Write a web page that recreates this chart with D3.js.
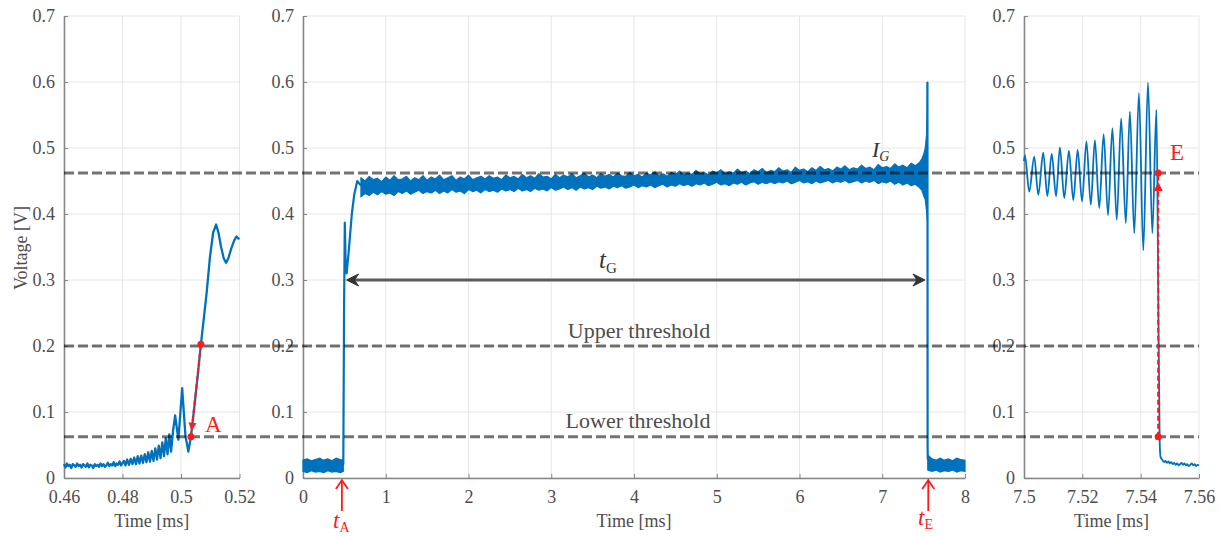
<!DOCTYPE html>
<html><head><meta charset="utf-8">
<script src="https://cdn.jsdelivr.net/npm/d3@7"></script>
<style>
body{margin:0;background:#fff}
svg{display:block}
text{font-family:"Liberation Serif","Times New Roman",serif}
</style>
</head><body><svg id="c" width="1223" height="536"></svg>
<script>
// ---------------- DATA ----------------
const yTicks = [0, 0.1, 0.2, 0.3, 0.4, 0.5, 0.6, 0.7];
const yTickLabels = ["0", "0.1", "0.2", "0.3", "0.4", "0.5", "0.6", "0.7"];
const leftXTicks = [0.46, 0.48, 0.5, 0.52];
const leftXLabels = ["0.46", "0.48", "0.5", "0.52"];
const midXTicks = [0, 1, 2, 3, 4, 5, 6, 7, 8];
const midXLabels = ["0", "1", "2", "3", "4", "5", "6", "7", "8"];
const rightXTicks = [7.5, 7.52, 7.54, 7.56];
const rightXLabels = ["7.5", "7.52", "7.54", "7.56"];

const lowerThreshold = 0.0626;
const upperThreshold = 0.2;
const levelIG = 0.462;

// left panel signal [time ms, voltage V]
const leftSignal = [
 [0.4600,0.021],[0.4605,0.016],[0.4610,0.022],[0.4615,0.018],[0.4620,0.020],[0.4625,0.015],[0.4630,0.021],
 [0.4635,0.019],[0.4640,0.017],[0.4645,0.022],[0.4650,0.018],[0.4655,0.020],[0.4660,0.016],[0.4665,0.021],
 [0.4670,0.019],[0.4675,0.017],[0.4680,0.022],[0.4685,0.016],[0.4690,0.020],[0.4695,0.019],[0.4700,0.015],
 [0.4705,0.021],[0.4710,0.018],[0.4715,0.020],[0.4720,0.017],[0.4725,0.022],[0.4730,0.018],[0.4735,0.021],
 [0.4740,0.017],[0.4745,0.019],[0.4750,0.023],[0.4755,0.018],[0.4760,0.021],[0.4765,0.019],[0.4770,0.024],
 [0.4775,0.018],[0.4780,0.022],[0.4785,0.020],[0.4790,0.025],[0.4795,0.019],[0.4800,0.023],
 [0.4805,0.026],[0.4810,0.019],[0.4816,0.028],[0.4822,0.020],[0.4828,0.029],[0.4834,0.021],[0.4840,0.031],
 [0.4846,0.021],[0.4852,0.033],[0.4858,0.022],[0.4864,0.034],[0.4870,0.023],[0.4876,0.036],[0.4882,0.024],
 [0.4888,0.039],[0.4894,0.025],[0.4900,0.041],[0.4906,0.026],[0.4912,0.045],[0.4918,0.028],[0.4924,0.049],
 [0.4930,0.030],[0.4936,0.054],[0.4942,0.033],[0.4948,0.060],[0.4954,0.036],[0.4960,0.066],[0.4966,0.040],
 [0.4973,0.072],[0.4980,0.095],[0.4991,0.058],[0.5004,0.136],[0.5015,0.065],[0.5025,0.040],[0.5034,0.0626],
 [0.5045,0.105],[0.5056,0.150],[0.5068,0.2026],[0.5078,0.242],[0.5088,0.282],[0.5099,0.335],[0.5110,0.372],
 [0.5120,0.384],[0.5128,0.372],[0.5137,0.350],[0.5146,0.333],[0.5154,0.326],[0.5162,0.333],[0.5172,0.348],
 [0.5182,0.360],[0.5190,0.366],[0.5196,0.363],[0.5200,0.362]
];
const markA = [[0.5068, 0.2026], [0.5034, 0.0626]];

// middle panel: baseline band before rise [t, low, high]
const midStartBand = [
 [0.00,0.010,0.027],[0.05,0.008,0.029],[0.10,0.011,0.026],[0.15,0.009,0.028],[0.20,0.010,0.030],
 [0.25,0.008,0.027],[0.30,0.011,0.029],[0.35,0.009,0.026],[0.40,0.010,0.030],[0.45,0.008,0.028],[0.487,0.010,0.027]
];
// rise transient
const midRise = [
 [0.487,0.020],[0.496,0.25],[0.505,0.387],[0.515,0.33],[0.527,0.31],[0.55,0.34],[0.59,0.40],
 [0.62,0.43],[0.656,0.45],[0.70,0.443]
];
// plateau noise band
const plateauTimes = [
 0.70,0.75,0.80,0.85,0.90,0.95,1.00,1.05,1.10,1.15,
 1.20,1.25,1.30,1.35,1.40,1.45,1.50,1.55,1.60,1.65,
 1.70,1.75,1.80,1.85,1.90,1.95,2.00,2.05,2.10,2.15,
 2.20,2.25,2.30,2.35,2.40,2.45,2.50,2.55,2.60,2.65,
 2.70,2.75,2.80,2.85,2.90,2.95,3.00,3.05,3.10,3.15,
 3.20,3.25,3.30,3.35,3.40,3.45,3.50,3.55,3.60,3.65,
 3.70,3.75,3.80,3.85,3.90,3.95,4.00,4.05,4.10,4.15,
 4.20,4.25,4.30,4.35,4.40,4.45,4.50,4.55,4.60,4.65,
 4.70,4.75,4.80,4.85,4.90,4.95,5.00,5.05,5.10,5.15,
 5.20,5.25,5.30,5.35,5.40,5.45,5.50,5.55,5.60,5.65,
 5.70,5.75,5.80,5.85,5.90,5.95,6.00,6.05,6.10,6.15,
 6.20,6.25,6.30,6.35,6.40,6.45,6.50,6.55,6.60,6.65,
 6.70,6.75,6.80,6.85,6.90,6.95,7.00,7.05,7.10,7.15,
 7.20,7.25,7.30,7.35,7.40,
 7.45,7.48,7.50,7.52,7.535,7.542,7.546
];
const plateauUpper = [
 0.455,0.450,0.457,0.452,0.454,0.449,0.456,0.451,0.458,0.452,
 0.453,0.457,0.450,0.455,0.452,0.458,0.451,0.456,0.453,0.459,
 0.452,0.455,0.458,0.451,0.456,0.453,0.459,0.452,0.455,0.457,
 0.453,0.458,0.454,0.456,0.452,0.459,0.455,0.457,0.453,0.460,
 0.455,0.458,0.454,0.461,0.456,0.457,0.453,0.460,0.455,0.459,
 0.456,0.461,0.455,0.458,0.462,0.456,0.459,0.455,0.461,0.457,
 0.460,0.456,0.462,0.458,0.457,0.463,0.458,0.460,0.456,0.462,
 0.459,0.464,0.458,0.461,0.457,0.463,0.460,0.465,0.459,0.462,
 0.460,0.466,0.461,0.463,0.459,0.465,0.462,0.467,0.461,0.464,
 0.462,0.468,0.463,0.465,0.461,0.467,0.464,0.469,0.463,0.466,
 0.464,0.470,0.465,0.467,0.463,0.471,0.466,0.468,0.464,0.470,
 0.466,0.472,0.467,0.469,0.465,0.471,0.468,0.473,0.467,0.470,
 0.468,0.474,0.469,0.471,0.467,0.475,0.470,0.472,0.469,0.476,
 0.471,0.474,0.470,0.477,0.473,
 0.478,0.484,0.490,0.500,0.520,0.550,0.600
];
const plateauLower = [
 0.426,0.431,0.428,0.433,0.429,0.434,0.430,0.432,0.428,0.434,
 0.431,0.435,0.430,0.433,0.436,0.431,0.434,0.432,0.436,0.431,
 0.435,0.432,0.437,0.433,0.435,0.431,0.437,0.434,0.436,0.432,
 0.437,0.434,0.436,0.433,0.438,0.435,0.437,0.434,0.439,0.435,
 0.437,0.434,0.439,0.436,0.438,0.435,0.440,0.436,0.438,0.441,
 0.437,0.440,0.436,0.441,0.438,0.440,0.437,0.442,0.439,0.441,
 0.438,0.442,0.440,0.443,0.439,0.441,0.444,0.440,0.443,0.441,
 0.444,0.440,0.443,0.445,0.441,0.444,0.442,0.446,0.443,0.445,
 0.442,0.446,0.444,0.447,0.443,0.445,0.448,0.444,0.446,0.443,
 0.447,0.445,0.448,0.444,0.447,0.449,0.445,0.448,0.446,0.449,
 0.446,0.449,0.447,0.450,0.446,0.448,0.451,0.447,0.449,0.446,
 0.450,0.447,0.449,0.451,0.447,0.450,0.448,0.451,0.447,0.449,
 0.451,0.447,0.450,0.448,0.451,0.446,0.449,0.447,0.450,0.445,
 0.448,0.444,0.447,0.443,0.445,
 0.440,0.436,0.428,0.422,0.405,0.395,0.390
];
// fall transient
const midFall = [[7.546,0.600],[7.547,0.420],[7.548,0.050],[7.550,0.030],[7.552,0.028]];
// baseline band after fall
const midEndBand = [
 [7.550,0.012,0.035],[7.60,0.010,0.029],[7.65,0.012,0.027],[7.70,0.009,0.030],[7.75,0.011,0.027],
 [7.80,0.010,0.029],[7.85,0.012,0.026],[7.90,0.009,0.030],[7.95,0.011,0.028],[8.00,0.010,0.027]
];
const tAMark = 0.47;
const tEMark = 7.556;
const tGStart = 0.526;
const tGEnd = 7.517;
const tGLevel = 0.3;

// right panel signal
const rightSignal = [
 [7.5000,0.480],[7.5003,0.489],[7.5018,0.434],[7.5035,0.487],[7.5049,0.429],[7.5066,0.493],[7.5080,0.427],
 [7.5095,0.491],[7.5110,0.427],[7.5123,0.501],[7.5138,0.424],[7.5154,0.496],[7.5169,0.421],[7.5184,0.497],
 [7.5199,0.419],[7.5214,0.510],[7.5229,0.414],[7.5243,0.512],[7.5258,0.409],[7.5273,0.521],[7.5288,0.398],
 [7.5303,0.530],[7.5318,0.391],[7.5333,0.545],[7.5349,0.386],[7.5363,0.555],[7.5378,0.371],[7.5394,0.583],
 [7.5409,0.345],[7.5425,0.599],[7.5440,0.371],[7.5454,0.558],[7.5460,0.300],[7.5465,0.060],[7.5468,0.032],
 [7.5475,0.027],[7.5480,0.024],[7.5485,0.026],[7.5490,0.023],[7.5495,0.025],[7.5500,0.022],[7.5505,0.024],
 [7.5510,0.021],[7.5515,0.023],[7.5520,0.020],[7.5525,0.022],[7.5530,0.019],[7.5535,0.021],[7.5540,0.023],
 [7.5545,0.020],[7.5550,0.022],[7.5555,0.019],[7.5560,0.021],[7.5565,0.018],[7.5570,0.020],[7.5575,0.022],
 [7.5580,0.019],[7.5585,0.021],[7.5590,0.018],[7.5595,0.020],[7.5600,0.019]
];
const markE = [[7.546, 0.0626], [7.546, 0.462]];

// ---------------- DRAWING ----------------
const svg = d3.select("#c");
svg.append("rect").attr("width",1223).attr("height",536).attr("fill","#fff");

const BLUE = "#0072BD";
const RED = "#ff1a1a";
const AX = "#858585";
const TXT = "#4d4d4d";

const y = d3.scaleLinear().domain([0,0.7]).range([478,16]);
const xL = d3.scaleLinear().domain([0.46,0.52]).range([64,239.5]);
const xM = d3.scaleLinear().domain([0,8]).range([303,965]);
const xR = d3.scaleLinear().domain([7.5,7.56]).range([1024,1199]);

const panels = [
  {x:xL, ticks:leftXTicks, labels:leftXLabels},
  {x:xM, ticks:midXTicks, labels:midXLabels},
  {x:xR, ticks:rightXTicks, labels:rightXLabels}
];

const gridG = svg.append("g");
const axG = svg.append("g");
panels.forEach(p => {
  const [x0,x1] = p.x.range();
  gridG.selectAll(null).data(p.ticks).join("line")
    .attr("x1",d=>p.x(d)).attr("x2",d=>p.x(d)).attr("y1",y(0)).attr("y2",y(0.7))
    .attr("stroke","#e6e6e6").attr("stroke-width",1);
  gridG.selectAll(null).data(yTicks).join("line")
    .attr("x1",x0).attr("x2",x1).attr("y1",d=>y(d)).attr("y2",d=>y(d))
    .attr("stroke","#e6e6e6").attr("stroke-width",1);

  const ya = axG.append("g").attr("transform",`translate(${x0},0)`)
    .call(d3.axisLeft(y).tickValues(yTicks).tickFormat((d,i)=>yTickLabels[i])
      .tickSizeInner(-4).tickSizeOuter(0).tickPadding(9));
  const xa = axG.append("g").attr("transform",`translate(0,${y(0)})`)
    .call(d3.axisBottom(p.x).tickValues(p.ticks).tickFormat((d,i)=>p.labels[i])
      .tickSizeInner(-4).tickSizeOuter(0).tickPadding(12));
  [ya,xa].forEach(g=>{
    g.attr("font-family",null).attr("font-size",null);
    g.select(".domain").attr("stroke",AX).attr("stroke-width",1.5);
    g.selectAll(".tick line").attr("stroke",AX).attr("stroke-width",1);
    g.selectAll(".tick text").attr("fill",TXT).style("font-size","18px");
  });
  svg.append("text").attr("x",(x0+x1)/2).attr("y",527).attr("text-anchor","middle")
    .attr("fill",TXT).style("font-size","18px").text("Time [ms]");
});

svg.append("text").attr("transform","translate(27,248) rotate(-90)").attr("text-anchor","middle")
  .attr("fill",TXT).style("font-size","18px").text("Voltage [V]");

const sig = svg.append("g");
// left
sig.append("path").datum(leftSignal)
  .attr("d", d3.line().x(d=>xL(d[0])).y(d=>y(d[1])))
  .attr("fill","none").attr("stroke",BLUE).attr("stroke-width",2.3).attr("stroke-linejoin","round");

// middle
const bandArea = x => d3.area().x(d=>x(d[0])).y0(d=>y(d[1])).y1(d=>y(d[2]));
[midStartBand, midEndBand].forEach(b=>{
  sig.append("path").datum(b).attr("d", bandArea(xM)).attr("fill",BLUE)
    .attr("stroke",BLUE).attr("stroke-width",1.2);
});
const plateau = plateauTimes.map((t,i)=>[t, plateauLower[i], plateauUpper[i]]);
sig.append("path").datum(plateau).attr("d", bandArea(xM)).attr("fill",BLUE)
  .attr("stroke",BLUE).attr("stroke-width",1.2).attr("stroke-linejoin","round");
[midRise, midFall].forEach(l=>{
  sig.append("path").datum(l).attr("d", d3.line().x(d=>xM(d[0])).y(d=>y(d[1])))
    .attr("fill","none").attr("stroke",BLUE).attr("stroke-width",2.2).attr("stroke-linejoin","round");
});

// right
sig.append("path").datum(rightSignal)
  .attr("d", d3.line().x(d=>xR(d[0])).y(d=>y(d[1])).curve(d3.curveMonotoneX))
  .attr("fill","none").attr("stroke",BLUE).attr("stroke-width",1.8);

// dashed horizontal levels
const dashG = svg.append("g");
[levelIG, upperThreshold, lowerThreshold].forEach(v=>{
  dashG.append("line").attr("x1",xL(0.46)).attr("x2",xR(7.56)).attr("y1",y(v)).attr("y2",y(v))
    .attr("stroke","#000").attr("stroke-opacity",0.55).attr("stroke-width",3)
    .attr("stroke-dasharray","10,4");
});

svg.append("text").attr("x",639).attr("y",338).attr("text-anchor","middle").attr("fill",TXT)
  .style("font-size","22px").text("Upper threshold");
svg.append("text").attr("x",638).attr("y",428).attr("text-anchor","middle").attr("fill",TXT)
  .style("font-size","22px").text("Lower threshold");

// tG arrow
const ann = svg.append("g");
const gy = y(tGLevel), gx0 = xM(tGStart), gx1 = xM(tGEnd);
ann.append("line").attr("x1",gx0+6).attr("x2",gx1-6).attr("y1",gy).attr("y2",gy)
  .attr("stroke","#5a5a5a").attr("stroke-width",3);
ann.append("path").attr("d",`M${gx0},${gy}L${gx0+12},${gy-6}L${gx0+8},${gy}L${gx0+12},${gy+6}Z`)
  .attr("fill","#333").attr("stroke","#333").attr("stroke-width",1);
ann.append("path").attr("d",`M${gx1},${gy}L${gx1-12},${gy-6}L${gx1-8},${gy}L${gx1-12},${gy+6}Z`)
  .attr("fill","#333").attr("stroke","#333").attr("stroke-width",1);
const tg = ann.append("text").attr("x",599).attr("y",268).attr("fill","#333");
tg.append("tspan").style("font-style","italic").style("font-size","25px").text("t");
tg.append("tspan").attr("dy",5).style("font-size","15px").text("G");

const ig = ann.append("text").attr("x",872).attr("y",157).attr("fill","#333");
ig.append("tspan").style("font-style","italic").style("font-size","22px").text("I");
ig.append("tspan").attr("dy",4).style("font-style","italic").style("font-size","14px").text("G");

// tA / tE arrows
[[tAMark, 333, 528, "A"], [tEMark, 918, 525, "E"]].forEach(([t, lx, ly, s])=>{
  const ax = xM(t);
  ann.append("line").attr("x1",ax).attr("x2",ax).attr("y1",511).attr("y2",481)
    .attr("stroke",RED).attr("stroke-width",1.8);
  ann.append("path").attr("d",`M${ax-6},${489}L${ax},${480}L${ax+6},${489}`)
    .attr("fill","none").attr("stroke",RED).attr("stroke-width",1.8);
  const tt = ann.append("text").attr("x",lx).attr("y",ly).attr("fill",RED);
  tt.append("tspan").style("font-style","italic").style("font-size","23px").text("t");
  tt.append("tspan").attr("dy",4).style("font-size","14px").text(s);
});

// red markers A and E
function marker(xs, pts, tipOffset, len, hw){
  const p0 = [xs(pts[0][0]), y(pts[0][1])];
  const p1 = [xs(pts[1][0]), y(pts[1][1])];
  ann.append("line").attr("x1",p0[0]).attr("y1",p0[1]).attr("x2",p1[0]).attr("y2",p1[1])
    .attr("stroke",RED).attr("stroke-width",2).attr("stroke-dasharray","5,3");
  const dx = p1[0]-p0[0], dy = p1[1]-p0[1], L = Math.hypot(dx,dy);
  const ux = dx/L, uy = dy/L;
  const tip = [p1[0]-ux*tipOffset, p1[1]-uy*tipOffset];
  const base = [tip[0]-ux*len, tip[1]-uy*len];
  ann.append("path").attr("d",`M${tip[0]},${tip[1]}L${base[0]-uy*hw},${base[1]+ux*hw}L${base[0]+uy*hw},${base[1]-ux*hw}Z`)
    .attr("fill",RED);
  [p0,p1].forEach(p=>ann.append("circle").attr("cx",p[0]).attr("cy",p[1]).attr("r",3.5).attr("fill",RED));
}
marker(xL, markA, 6, 8, 4);
marker(xR, markE, 9, 9, 4.5);

ann.append("text").attr("x",205).attr("y",432).attr("fill",RED).style("font-size","23px").text("A");
ann.append("text").attr("x",1170).attr("y",160).attr("fill",RED).style("font-size","23px").text("E");
</script></body></html>
